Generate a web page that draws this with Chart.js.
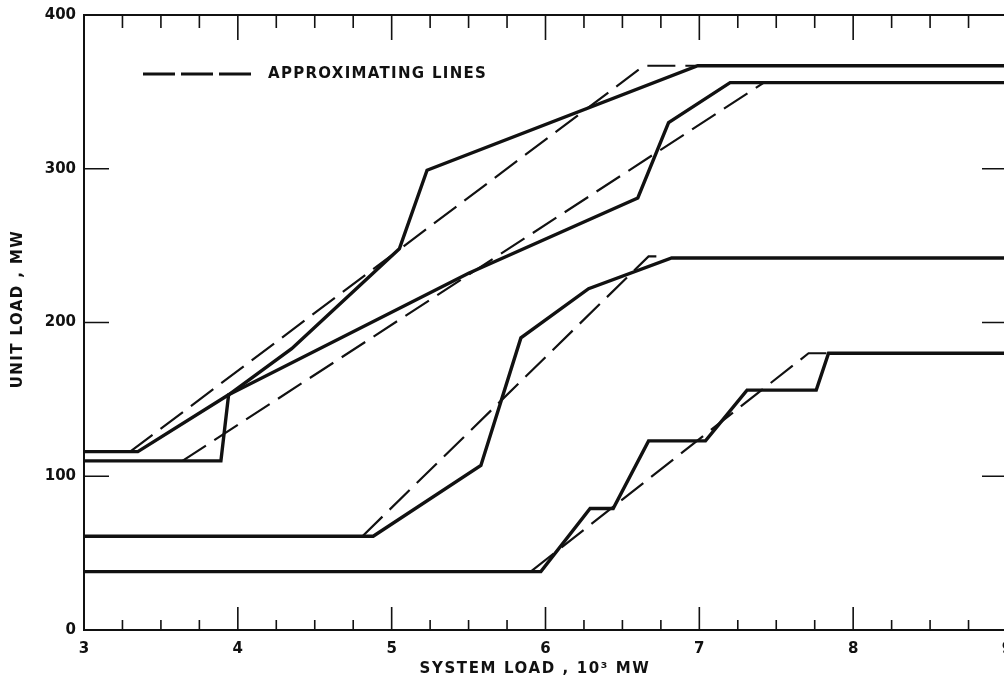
<!DOCTYPE html>
<html>
<head>
<meta charset="utf-8">
<script src="https://cdn.jsdelivr.net/npm/chart.js@4/dist/chart.umd.min.js"></script>
<style>
  html, body { margin: 0; padding: 0; background: #fff; overflow: hidden; }
  canvas { position: absolute; left: 0; top: 0; }
</style>
</head>
<body>
<canvas id="unitLoadChart" width="1030" height="685"></canvas>
<script>
// system load (10^3 MW) vs unit load (MW)
const unitAx = [3, 3.35, 3.94, 4.35, 5.05, 5.23, 6.99, 9];
const unitAy = [116, 116, 153, 183, 248, 299, 367, 367];

const unitBx = [3, 3.89, 3.94, 5.5, 6.6, 6.8, 7.2, 9];
const unitBy = [110, 110, 153, 232, 281, 330, 356, 356];

const unitCx = [3, 4.88, 5.58, 5.84, 6.28, 6.82, 9];
const unitCy = [61, 61, 107, 190, 222, 242, 242];

const unitDx = [3, 5.97, 6.29, 6.44, 6.67, 7.04, 7.31, 7.76, 7.84, 9];
const unitDy = [38, 38, 79, 79, 123, 123, 156, 156, 180, 180];

// approximating (dashed) lines
const approxAx = [3.3, 6.64, 6.99];
const approxAy = [116, 367, 367];
const approxBx = [3.64, 7.42];
const approxBy = [110, 356];
const approxCx = [4.81, 6.67, 6.78];
const approxCy = [61, 243, 243];
const approxDx = [5.91, 7.71, 7.84];
const approxDy = [38.5, 180, 180];

const xTicks = [3, 4, 5, 6, 7, 8, 9];
const yTicks = [0, 100, 200, 300, 400];
const legendText = 'APPROXIMATING LINES';
const xTitle = 'SYSTEM LOAD , 10³ MW';
const yTitle = 'UNIT LOAD , MW';

const ink = '#111';
const font = '"DejaVu Sans", sans-serif';

const pts = (xs, ys) => xs.map((v, i) => ({ x: v, y: ys[i] }));

const solid = (xs, ys) => ({
  data: pts(xs, ys),
  borderColor: ink,
  borderWidth: 3.4,
  pointRadius: 0,
  tension: 0,
  borderJoinStyle: 'miter'
});
const dashed = (xs, ys) => ({
  data: pts(xs, ys),
  borderColor: ink,
  borderWidth: 2.2,
  borderDash: [28, 10],
  pointRadius: 0,
  tension: 0
});

// frame, inward ticks, titles and the little legend
const frameAndTicks = {
  id: 'frameAndTicks',
  afterDatasetsDraw(chart) {
    const { ctx, chartArea: a, scales: { x, y } } = chart;
    ctx.save();
    ctx.strokeStyle = ink;
    ctx.lineWidth = 2;
    ctx.strokeRect(a.left, a.top, a.right - a.left, a.bottom - a.top);

    ctx.lineWidth = 1.6;
    ctx.beginPath();
    for (let v = 3.25; v < 9; v += 0.25) {
      const px = x.getPixelForValue(v);
      const major = Number.isInteger(v);
      ctx.moveTo(px, a.bottom);
      ctx.lineTo(px, a.bottom - (major ? 23 : 10));
      ctx.moveTo(px, a.top);
      ctx.lineTo(px, a.top + (major ? 25 : 13));
    }
    yTicks.slice(1, -1).forEach(v => {
      const py = y.getPixelForValue(v);
      ctx.moveTo(a.left, py);
      ctx.lineTo(a.left + 25, py);
      ctx.moveTo(a.right, py);
      ctx.lineTo(a.right - 25, py);
    });
    ctx.stroke();

    // legend
    ctx.lineWidth = 2.8;
    ctx.setLineDash([32, 6]);
    ctx.beginPath();
    ctx.moveTo(143, 74);
    ctx.lineTo(251, 74);
    ctx.stroke();
    ctx.setLineDash([]);
    ctx.fillStyle = ink;
    ctx.font = 'bold 15px ' + font;
    ctx.textBaseline = 'middle';
    ctx.letterSpacing = '1.3px';
    ctx.fillText(legendText, 268, 74);

    // axis titles
    ctx.letterSpacing = '1.6px';
    ctx.textAlign = 'center';
    ctx.fillText(xTitle, 535, 669);
    ctx.translate(18, 309);
    ctx.rotate(-Math.PI / 2);
    ctx.letterSpacing = '1.4px';
    ctx.fillText(yTitle, 0, 0);
    ctx.restore();
  }
};

const ctx = document.getElementById('unitLoadChart').getContext('2d');
new Chart(ctx, {
  type: 'line',
  data: {
    datasets: [
      solid(unitAx, unitAy),
      solid(unitBx, unitBy),
      solid(unitCx, unitCy),
      solid(unitDx, unitDy),
      dashed(approxAx, approxAy),
      dashed(approxBx, approxBy),
      dashed(approxCx, approxCy),
      dashed(approxDx, approxDy)
    ]
  },
  options: {
    responsive: false,
    animation: false,
    layout: { padding: { top: 15, right: 23, left: 0, bottom: 0 } },
    plugins: {
      legend: { display: false },
      tooltip: { enabled: false }
    },
    scales: {
      x: {
        type: 'linear',
        min: 3,
        max: 9,
        afterBuildTicks: s => { s.ticks = xTicks.map(v => ({ value: v })); },
        afterFit: s => { s.height = 55; },
        grid: { display: false },
        border: { display: false },
        ticks: { color: ink, padding: 2, font: { family: font, size: 15, weight: 'bold' } }
      },
      y: {
        min: 0,
        max: 400,
        afterBuildTicks: s => { s.ticks = yTicks.map(v => ({ value: v })); },
        afterFit: s => { s.width = 84; },
        grid: { display: false },
        border: { display: false },
        ticks: { color: ink, padding: 0, font: { family: font, size: 15, weight: 'bold' } }
      }
    }
  },
  plugins: [frameAndTicks]
});
</script>
</body>
</html>
